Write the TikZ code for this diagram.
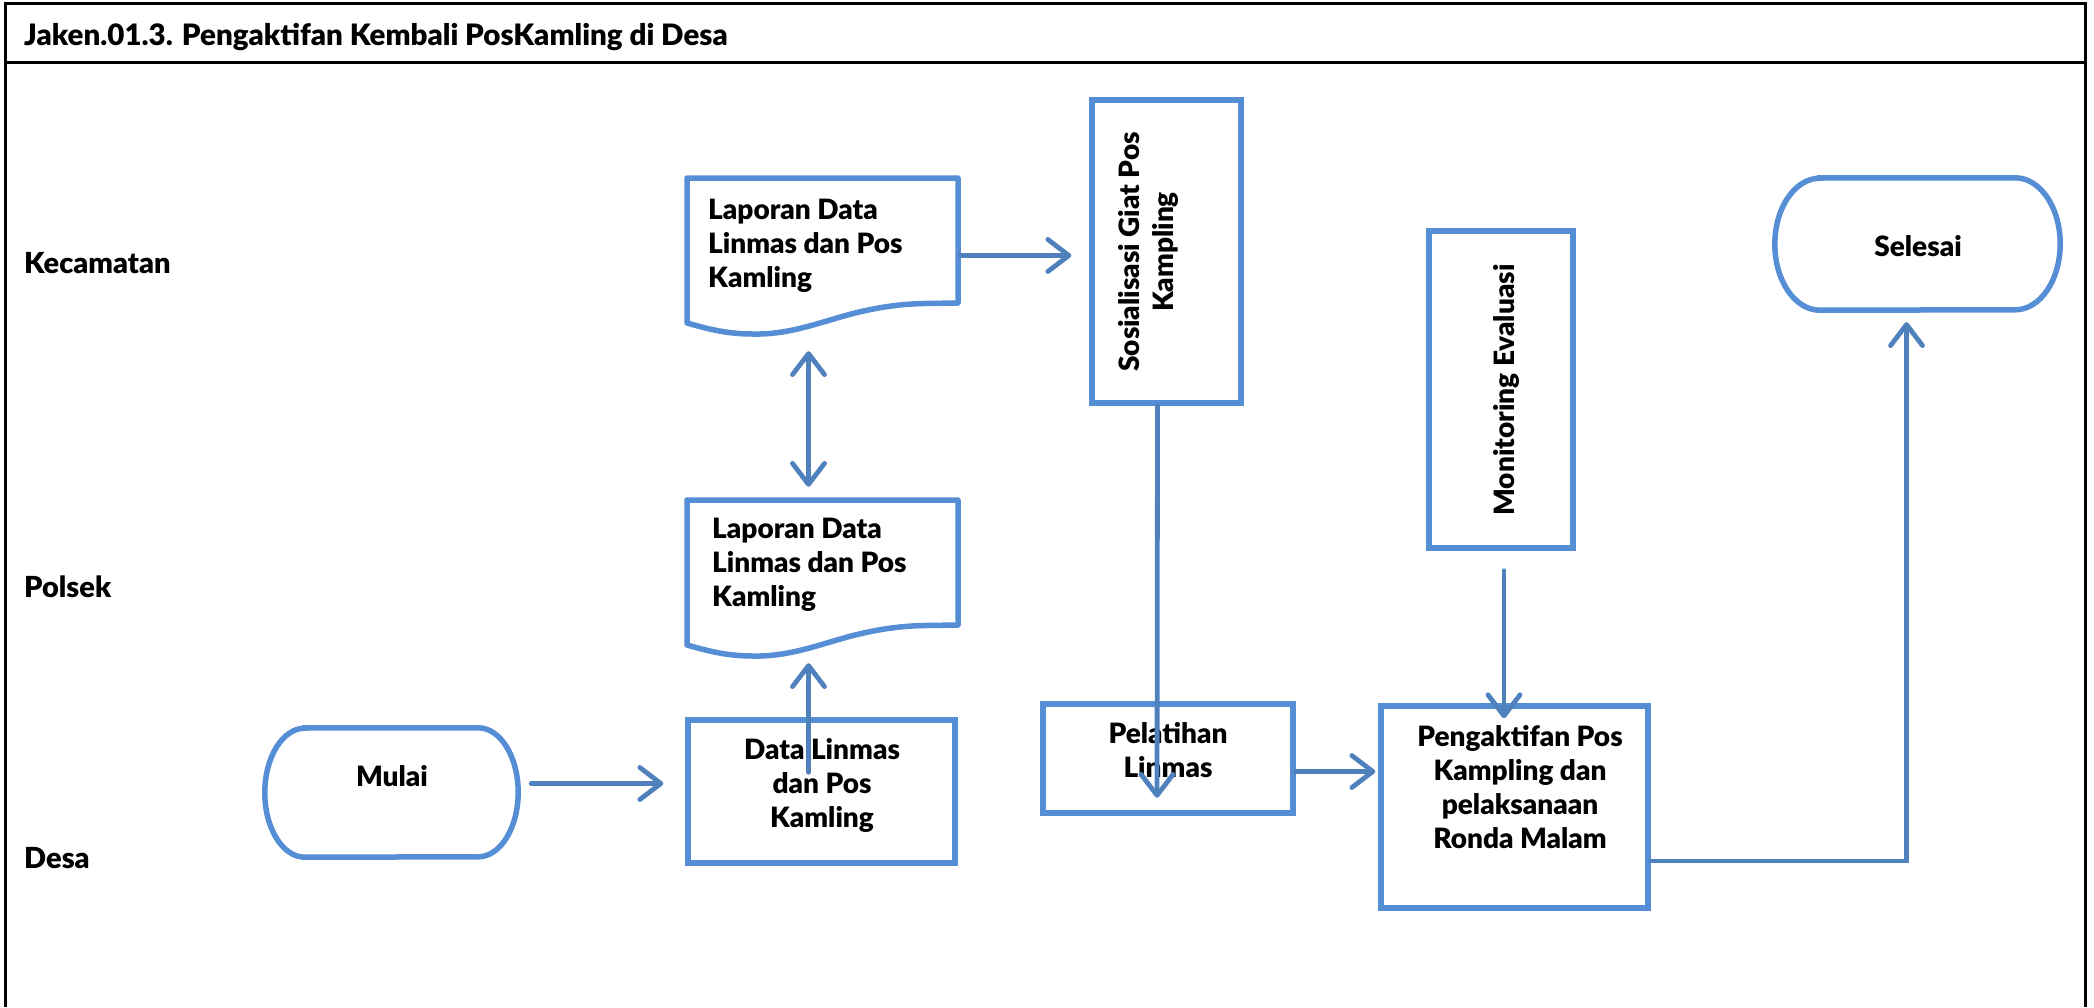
\documentclass[tikz,border=0pt]{standalone}
\usepackage{fontspec}
\setmainfont{Lato}[BoldFont={Lato Black}]
\usetikzlibrary{arrows.meta,fit,calc}

\definecolor{shapeblue}{RGB}{85,142,213}
\definecolor{linkblue}{RGB}{79,129,189}

\newcommand\boxfont{\fontsize{28}{34}\selectfont\bfseries}
\newcommand\labelfont{\fontsize{29}{34}\selectfont\bfseries}
\newcommand\titlefont{\fontsize{29.5}{32}\selectfont\bfseries}

\tikzset{
  frame/.style={line width=3pt, draw=black},
  boxline/.style={draw=shapeblue, line width=5.5pt},
  box/.style={boxline, inner sep=0pt},
  area/.style={inner sep=0pt},
  txt/.style={font=\boxfont, inner sep=0pt},
  barb/.tip={Straight Barb[length=21pt, width=32pt, round]},
  link/.style={draw=linkblue, line width=4.8pt, line cap=round, -barb},
  docshape/.pic={
    \draw[boxline, line join=round]
      (0,-145) -- (0,0) -- (271,0) -- (271,-125) -- (238,-125.5)
      .. controls (213,-126) and (193,-129) .. (168,-135)
      .. controls (133,-144) and (103,-157) .. (65,-156)
      .. controls (38,-156) and (18,-150) .. (0,-145) -- cycle;
  },
}

\begin{document}
\begin{tikzpicture}[x=1pt, y=1pt]
\useasboundingbox (0,0) rectangle (2094,-1007);

% outer frame and title bar
\draw[frame] (5,-1007) -- (5,-3) -- (2085,-3) -- (2085,-1007);
\draw[frame] (5,-62) -- (2085,-62);
\node[font=\titlefont, inner sep=0pt, anchor=base west] (title) at (24,-45)
  {Jaken.01.3. Pengaktifan Kembali PosKamling di Desa};

% lane labels
\node[font=\labelfont, inner sep=0pt, anchor=base west] (lkec) at (24,-273) {Kecamatan};
\node[font=\labelfont, inner sep=0pt, anchor=base west] (lpol) at (24,-597) {Polsek};
\node[font=\labelfont, inner sep=0pt, anchor=base west] (ldes) at (24,-868) {Desa};

% start terminal
\node[area, fit={(265,-728) (518,-857)}] (mulai) {};
\draw[boxline] ([xshift=40pt]mulai.north west) -- ([xshift=-40pt]mulai.north east)
  arc[start angle=90, end angle=-90, x radius=40, y radius=64.5]
  -- ([xshift=40pt]mulai.south west)
  arc[start angle=270, end angle=90, x radius=40, y radius=64.5] -- cycle;
\node[txt, anchor=base] (mulaitxt) at (392,-786) {Mulai};

% data box (Desa)
\node[box, fit={(688,-720) (955,-863)}] (data) {};
\node[txt, align=center, anchor=base] (datatxt) at (822,-827) {Data Linmas\\dan Pos\\Kamling};

% report documents
\node[area, fit={(687,-500) (958,-655)}] (doc2) {};
\pic at (687,-500) {docshape};
\node[txt, align=left, anchor=base west] (doc2txt) at (712,-606) {Laporan Data\\Linmas dan Pos\\Kamling};

\node[area, fit={(687,-178) (958,-333)}] (doc1) {};
\pic at (687,-178) {docshape};
\node[txt, align=left, anchor=base west] (doc1txt) at (708,-287) {Laporan Data\\Linmas dan Pos\\Kamling};

% socialisation box
\node[box, fit={(1092,-100) (1241,-403)}] (sos) {};
\node[txt, align=center, rotate=90] (sostxt) at (1148,-252) {Sosialisasi Giat Pos\\Kampling};

% training box
\node[box, fit={(1043,-704) (1293,-813)}] (pel) {};
\node[txt, align=center, anchor=base] (peltxt) at (1168,-777) {Pelatihan\\Linmas};

% activation box
\node[box, fit={(1381,-706) (1648,-908)}] (peng) {};
\node[txt, align=center, anchor=base] (pengtxt) at (1520,-848)
  {Pengaktifan Pos\\Kampling dan\\pelaksanaan\\Ronda Malam};

% monitoring box
\node[box, fit={(1429,-231) (1573,-548)}] (mon) {};
\node[txt, rotate=90] (montxt) at (1506,-390) {Monitoring Evaluasi};

% end terminal
\node[area, fit={(1775,-178) (2060,-310)}] (sel) {};
\draw[boxline] ([xshift=45pt]sel.north west) -- ([xshift=-45pt]sel.north east)
  arc[start angle=90, end angle=-90, x radius=45, y radius=66]
  -- ([xshift=45pt]sel.south west)
  arc[start angle=270, end angle=90, x radius=45, y radius=66] -- cycle;
\node[txt, anchor=base] (seltxt) at (1918,-256) {Selesai};

% connectors
\coordinate (m1) at ($(mulai.east)+(0,9)$);
\draw[link, shorten <=13pt, shorten >=22pt] (m1) -- (m1 -| data.west);

\draw[link, shorten >=8pt] ($(data.north)+(-13,-55)$) -- ($(doc2.south)+(-14,0)$);

\draw[link, barb-barb, shorten <=18pt, shorten >=13pt]
  ($(doc1.south)+(-14,0)$) -- ($(doc2.north)+(-14,0)$);

\draw[link, shorten <=2pt, shorten >=18pt] (doc1.east) -- (doc1.east -| sos.west);

\draw[link, shorten >=18pt] ($(sos.south)+(-9,0)$) -- ($(pel.south)+(-11,0)$);

\coordinate (p1) at ($(pel.east)+(0,-13)$);
\draw[link, shorten >=3pt] (p1) -- (p1 -| peng.west);

\coordinate (mo1) at ($(mon.south)+(3,0)$);
\draw[link, shorten <=20pt, shorten >=-15pt] (mo1) -- (mo1 |- peng.north);

\coordinate (e1) at ($(peng.east)+(0,-54)$);
\draw[link, shorten >=12pt] (e1) -| ($(sel.south)+(-11,0)$);
\end{tikzpicture}
\end{document}
